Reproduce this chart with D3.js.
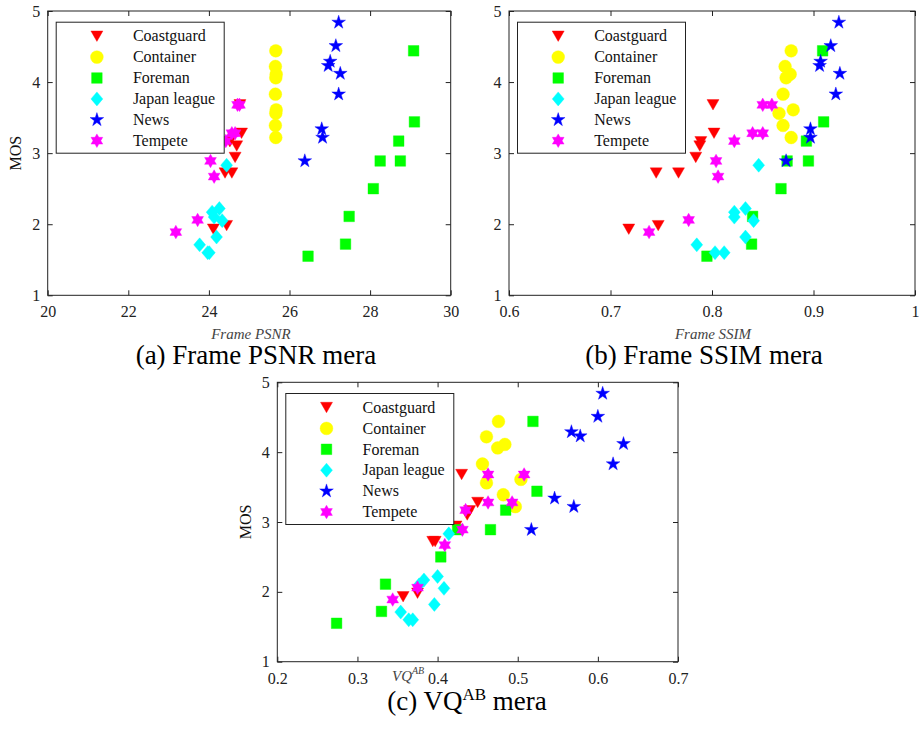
<!DOCTYPE html>
<html>
<head>
<meta charset="utf-8">
<script src="https://cdn.jsdelivr.net/npm/d3@7"></script>
<style>
	body { margin: 0; background: #fff; }
	svg { display: block; }
	svg text { font-family: "Liberation Serif", "Times New Roman", "DejaVu Serif", serif; }
</style>
</head>
<body>
<script>
// Sequence names, same order as the legend
const names = ['Coastguard', 'Container', 'Foreman', 'Japan league', 'News', 'Tempete']

// MOS of every test clip, one array per sequence
const mosCoastguard = [3.68, 3.28, 3.16, 3.10, 2.94, 2.72, 2.72, 1.98, 1.93]
const mosContainer = [4.44, 4.22, 4.11, 4.06, 3.83, 3.61, 3.56, 3.39, 3.22]
const mosForeman = [4.44, 3.44, 3.17, 2.89, 2.89, 2.50, 2.11, 1.72, 1.55]
const mosJapan = [2.83, 2.22, 2.17, 2.10, 2.05, 1.82, 1.71, 1.60, 1.60]
const mosNews = [4.84, 4.51, 4.29, 4.23, 4.12, 3.83, 3.34, 3.22, 2.89]
const mosTempete = [3.68, 3.68, 3.28, 3.28, 3.17, 2.89, 2.67, 2.06, 1.89]

// Frame PSNR
const psnrCoastguard = [24.77, 24.81, 24.52, 24.69, 24.65, 24.40, 24.57, 24.44, 24.11]
const psnrContainer = [25.66, 25.65, 25.67, 25.66, 25.65, 25.67, 25.66, 25.65, 25.66]
const psnrForeman = [29.08, 29.10, 28.71, 28.25, 28.75, 28.08, 27.48, 27.39, 26.46]
const psnrJapan = [24.44, 24.26, 24.08, 24.13, 24.33, 24.19, 23.77, 23.97, 24.01]
const psnrNews = [27.22, 27.15, 27.01, 26.96, 27.26, 27.22, 26.80, 26.82, 26.38]
const psnrTempete = [24.71, 24.76, 24.57, 24.65, 24.42, 24.04, 24.13, 23.72, 23.18]

// Frame SSIM
const ssimCoastguard = [0.801, 0.802, 0.789, 0.788, 0.784, 0.745, 0.767, 0.747, 0.718]
const ssimContainer = [0.878, 0.872, 0.877, 0.873, 0.870, 0.880, 0.866, 0.870, 0.878]
const ssimForeman = [0.909, 0.910, 0.893, 0.874, 0.895, 0.868, 0.840, 0.839, 0.795]
const ssimJapan = [0.846, 0.833, 0.822, 0.822, 0.841, 0.833, 0.785, 0.803, 0.812]
const ssimNews = [0.925, 0.917, 0.907, 0.906, 0.926, 0.922, 0.897, 0.897, 0.873]
const ssimTempete = [0.850, 0.859, 0.840, 0.850, 0.822, 0.804, 0.806, 0.777, 0.738]

// VQ^AB
const vqCoastguard = [0.430, 0.450, 0.440, 0.437, 0.423, 0.394, 0.397, 0.375, 0.357]
const vqContainer = [0.476, 0.461, 0.484, 0.475, 0.456, 0.504, 0.461, 0.482, 0.497]
const vqForeman = [0.519, 0.524, 0.485, 0.425, 0.466, 0.404, 0.335, 0.330, 0.274]
const vqJapan = [0.414, 0.400, 0.383, 0.377, 0.408, 0.396, 0.354, 0.364, 0.369]
const vqNews = [0.606, 0.600, 0.567, 0.578, 0.632, 0.619, 0.546, 0.570, 0.517]
const vqTempete = [0.463, 0.508, 0.463, 0.493, 0.435, 0.431, 0.409, 0.375, 0.344]

// Tick values
const mosTicks = [1, 2, 3, 4, 5]
const psnrTicks = [20, 22, 24, 26, 28, 30]
const ssimTicks = [0.6, 0.7, 0.8, 0.9, 1]
const vqTicks = [0.2, 0.3, 0.4, 0.5, 0.6, 0.7]

const mos = [mosCoastguard, mosContainer, mosForeman, mosJapan, mosNews, mosTempete]
const psnr = [psnrCoastguard, psnrContainer, psnrForeman, psnrJapan, psnrNews, psnrTempete]
const ssim = [ssimCoastguard, ssimContainer, ssimForeman, ssimJapan, ssimNews, ssimTempete]
const vq = [vqCoastguard, vqContainer, vqForeman, vqJapan, vqNews, vqTempete]

const colors = ['#ff0000', '#ffff00', '#00ff00', '#00ffff', '#0000ff', '#ff00ff']
const serif = '"Liberation Serif", "Times New Roman", "DejaVu Serif", serif'

// Matlab-like markers, "size" is the half width in px
const star = (k, n) => ({
	draw(c, r) {
		for (let i = 0; i < 2 * n; i++) {
			const a = Math.PI * i / n - Math.PI / 2
			const rr = i % 2 ? r * k : r
			i ? c.lineTo(rr * Math.cos(a), rr * Math.sin(a)) : c.moveTo(rr * Math.cos(a), rr * Math.sin(a))
		}
		c.closePath()
	}
})
const shapes = [
	{ draw(c, r) { c.moveTo(-r, -r * 0.87); c.lineTo(r, -r * 0.87); c.lineTo(0, r * 0.87); c.closePath() } },
	{ draw(c, r) { c.moveTo(r, 0); c.arc(0, 0, r, 0, 2 * Math.PI) } },
	{ draw(c, r) { c.rect(-r, -r, 2 * r, 2 * r) } },
	{ draw(c, r) { c.moveTo(0, -r); c.lineTo(r * 0.85, 0); c.lineTo(0, r); c.lineTo(-r * 0.85, 0); c.closePath() } },
	star(0.382, 5),
	star(0.577, 6),
]
const sizes = [6, 6.4, 5.3, 7, 7.2, 6.8]
const symbol = i => d3.symbol().type(shapes[i]).size(sizes[i])()

const svg = d3.select('body').append('svg')
	.attr('width', 919).attr('height', 745)
	.attr('font-family', serif)

const panels = [
	{ xs: psnr, box: [47.7, 11, 450.7, 295.3], domain: [20, 30], ticks: psnrTicks, clipLabel: false },
	{ xs: ssim, box: [509, 11, 915, 295.3], domain: [0.6, 1], ticks: ssimTicks, clipLabel: true },
	{ xs: vq, box: [277.3, 382.3, 678, 661.7], domain: [0.2, 0.7], ticks: vqTicks, clipLabel: false },
]

svg.append('clipPath').attr('id', 'clipb').append('rect')
	.attr('x', 480).attr('y', 0).attr('width', 439).attr('height', 745)

panels.forEach(p => {
	const [x0, y0, x1, y1] = p.box
	const x = d3.scaleLinear().domain(p.domain).range([x0, x1])
	const y = d3.scaleLinear().domain([1, 5]).range([y1, y0])
	const g = svg.append('g')

	// data, first series drawn first
	p.xs.forEach((xv, s) => {
		g.append('g').selectAll('path').data(xv).join('path')
			.attr('transform', (d, i) => `translate(${x(d)},${y(mos[s][i])})`)
			.attr('d', symbol(s))
			.attr('fill', colors[s])
			.attr('stroke', colors[s])
			.attr('stroke-width', 0.4)
	})

	// axes with inward ticks on all four sides
	const axes = [
		[d3.axisBottom(x).tickValues(p.ticks).tickFormat(d => String(d)).tickPadding(10.5), `translate(0,${y1})`],
		[d3.axisTop(x).tickValues(p.ticks).tickFormat(''), `translate(0,${y0})`],
		[d3.axisLeft(y).tickValues(mosTicks).tickFormat(d => String(d)).tickPadding(7.5), `translate(${x0},0)`],
		[d3.axisRight(y).tickValues(mosTicks).tickFormat(''), `translate(${x1},0)`],
	]
	axes.forEach(([ax, t]) => {
		const a = g.append('g').attr('transform', t)
			.call(ax.tickSizeInner(-5).tickSizeOuter(0))
			.attr('font-family', serif).attr('font-size', 16).attr('color', '#222')
		a.select('.domain').remove()
	})
	g.append('rect')
		.attr('x', x0).attr('y', y0).attr('width', x1 - x0).attr('height', y1 - y0)
		.attr('fill', 'none').attr('stroke', '#222').attr('stroke-width', 1)

	// MOS label
	const lab = g.append('text')
		.attr('transform', `translate(${x0 - 32},${(y0 + y1) / 2}) rotate(-90)`)
		.attr('dy', '0.35em').attr('text-anchor', 'middle').attr('font-size', 16).attr('fill', '#111')
		.text('MOS')
	if (p.clipLabel) lab.attr('clip-path', 'url(#clipb)')

	// legend
	const lg = g.append('g').attr('transform', `translate(${x0 + 8.5},${y0 + 11.2})`)
	lg.append('rect').attr('width', 168).attr('height', 131)
		.attr('fill', '#fff').attr('stroke', '#222').attr('stroke-width', 1)
	names.forEach((n, s) => {
		const row = lg.append('g').attr('transform', `translate(0,${14 + s * 20.9})`)
		row.append('path').attr('transform', 'translate(40.7,0)')
			.attr('d', symbol(s)).attr('fill', colors[s]).attr('stroke', colors[s]).attr('stroke-width', 0.4)
		row.append('text').attr('x', 76.7).attr('dy', '0.33em').attr('font-size', 16).attr('fill', '#111').text(n)
	})
})

// x labels
svg.append('text').attr('x', 251).attr('y', 338.5).attr('text-anchor', 'middle')
	.attr('font-size', 15).attr('font-style', 'italic').attr('fill', '#444').text('Frame PSNR')
svg.append('text').attr('x', 713).attr('y', 338.5).attr('text-anchor', 'middle')
	.attr('font-size', 15).attr('font-style', 'italic').attr('fill', '#444').text('Frame SSIM')
const vqLabel = svg.append('text').attr('x', 392).attr('y', 681)
	.attr('font-size', 15).attr('font-style', 'italic').attr('fill', '#444')
vqLabel.append('tspan').text('VQ')
vqLabel.append('tspan').attr('dy', -7).attr('font-size', 10).text('AB')

// captions
svg.append('text').attr('x', 256).attr('y', 364).attr('text-anchor', 'middle')
	.attr('font-size', 27).attr('fill', '#000').text('(a) Frame PSNR mera')
svg.append('text').attr('x', 704).attr('y', 364).attr('text-anchor', 'middle')
	.attr('font-size', 27).attr('fill', '#000').text('(b) Frame SSIM mera')
const capC = svg.append('text').attr('x', 467).attr('y', 710).attr('text-anchor', 'middle')
	.attr('font-size', 27).attr('fill', '#000')
capC.append('tspan').text('(c) VQ')
capC.append('tspan').attr('dy', -10).attr('font-size', 17).text('AB')
capC.append('tspan').attr('dy', 10).text(' mera')
</script>
</body>
</html>
